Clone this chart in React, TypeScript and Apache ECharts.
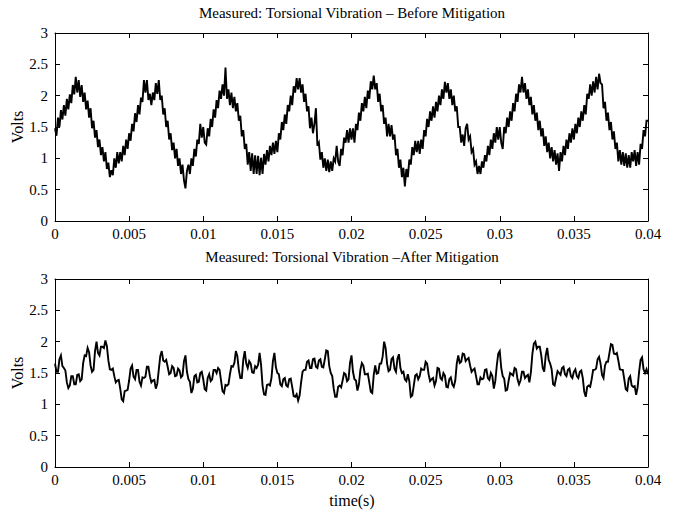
import React, { useEffect, useRef } from "react";
import * as echarts from "echarts";

// Sample spacing (s) of the traces
const timeStep = 0.0001;

const xTicks = [0, 0.005, 0.01, 0.015, 0.02, 0.025, 0.03, 0.035, 0.04];
const yTicks = [0, 0.5, 1, 1.5, 2, 2.5, 3];

const titleBefore = "Measured: Torsional Vibration – Before Mitigation";
const titleAfter = "Measured: Torsional Vibration –After Mitigation";
const xLabel = "time(s)";
const yLabel = "Volts";

// Volts, before mitigation (one value every 0.0001 s, 0 .. 0.04 s)
const beforeVolts = [
  1.48, 1.36, 1.65, 1.50, 1.77, 1.62, 1.85, 1.68, 1.95, 1.78,
  2.02, 1.88, 2.17, 2.02, 2.30, 2.05, 2.25, 1.98, 2.17, 1.90,
  2.05, 1.78, 1.92, 1.65, 1.80, 1.48, 1.60, 1.33, 1.45, 1.18,
  1.30, 1.05, 1.18, 0.95, 1.10, 0.83, 0.93, 0.70, 0.81, 0.73,
  1.00, 0.85, 1.10, 0.92, 1.10, 0.95, 1.20, 1.05, 1.30, 1.15,
  1.40, 1.28, 1.55, 1.43, 1.72, 1.58, 1.85, 1.70, 1.97, 1.90,
  2.25, 2.05, 2.25, 1.93, 2.03, 1.85, 2.05, 1.93, 2.20, 2.03,
  2.25, 1.93, 2.00, 1.70, 1.80, 1.50, 1.60, 1.30, 1.40, 1.13,
  1.25, 1.00, 1.15, 0.88, 1.00, 0.75, 0.90, 0.65, 0.52, 0.80,
  0.90, 0.75, 1.00, 0.88, 1.15, 1.03, 1.30, 1.23, 1.55, 1.33,
  1.50, 1.25, 1.22, 1.48, 1.35, 1.63, 1.50, 1.78, 1.65, 1.93,
  1.80, 2.08, 1.95, 2.18, 2.00, 2.45, 1.95, 2.10, 1.85, 2.05,
  1.80, 1.98, 1.75, 1.88, 1.60, 1.68, 1.35, 1.45, 1.15, 1.23,
  0.90, 1.10, 0.80, 1.08, 0.75, 1.05, 0.75, 1.04, 0.73, 1.01,
  0.75, 1.07, 0.90, 1.13, 0.95, 1.20, 1.05, 1.25, 1.07, 1.28,
  1.10, 1.40, 1.30, 1.58, 1.45, 1.70, 1.55, 1.85, 1.75, 2.00,
  1.85, 2.15, 2.05, 2.28, 2.10, 2.28, 2.05, 2.18, 1.90, 2.03,
  1.75, 1.83, 1.48, 1.65, 1.40, 1.55, 1.80, 1.20, 1.25, 0.98,
  1.10, 0.85, 1.00, 0.80, 0.98, 0.78, 0.95, 0.80, 1.00, 0.95,
  1.20, 0.95, 0.88, 1.15, 1.05, 1.33, 1.25, 1.45, 1.25, 1.48,
  1.30, 1.48, 1.25, 1.55, 1.45, 1.73, 1.60, 1.88, 1.75, 1.98,
  1.80, 2.08, 1.95, 2.23, 2.10, 2.32, 2.10, 2.20, 1.90, 2.03,
  1.75, 1.85, 1.55, 1.65, 1.35, 1.55, 1.35, 1.53, 1.30, 1.38,
  1.05, 1.15, 0.85, 0.98, 0.70, 0.85, 0.55, 0.83, 0.70, 0.98,
  0.90, 1.18, 1.05, 1.28, 1.10, 1.28, 1.07, 1.30, 1.15, 1.45,
  1.35, 1.63, 1.50, 1.75, 1.60, 1.83, 1.65, 1.90, 1.75, 2.00,
  1.85, 2.10, 1.95, 2.22, 2.05, 2.20, 1.95, 2.10, 1.85, 2.00,
  1.75, 1.83, 1.50, 1.50, 1.25, 1.38, 1.20, 1.48, 1.55, 1.30,
  1.35, 1.10, 1.15, 0.90, 0.95, 0.75, 0.88, 0.75, 0.95, 0.85,
  1.05, 0.95, 1.20, 1.05, 1.30, 1.15, 1.40, 1.25, 1.50, 1.30,
  1.50, 1.25, 1.15, 1.50, 1.40, 1.65, 1.50, 1.75, 1.60, 1.88,
  1.75, 2.03, 1.90, 2.18, 2.05, 2.30, 2.05, 2.20, 1.95, 2.10,
  1.85, 1.98, 1.70, 1.85, 1.60, 1.73, 1.45, 1.60, 1.35, 1.48,
  1.20, 1.35, 1.10, 1.25, 1.00, 1.18, 0.95, 1.13, 0.90, 1.08,
  0.80, 1.10, 0.95, 1.20, 1.05, 1.30, 1.15, 1.40, 1.25, 1.48,
  1.30, 1.55, 1.40, 1.65, 1.50, 1.75, 1.60, 1.85, 1.70, 2.03,
  1.95, 2.18, 2.00, 2.23, 2.05, 2.30, 2.10, 2.35, 2.20, 2.18,
  1.80, 1.90, 1.60, 1.73, 1.45, 1.58, 1.30, 1.43, 1.15, 1.25,
  0.95, 1.13, 0.90, 1.10, 0.88, 1.08, 0.85, 1.05, 0.85, 1.10,
  0.95, 1.13, 0.88, 1.10, 0.90, 1.23, 1.15, 1.45, 1.35, 1.60,
  1.60,
];

// Volts, after mitigation (one value every 0.0001 s, 0 .. 0.04 s)
const afterVolts = [
  1.65, 1.52, 1.52, 1.72, 1.78, 1.61, 1.58, 1.54, 1.35, 1.26,
  1.30, 1.45, 1.45, 1.32, 1.32, 1.47, 1.48, 1.37, 1.40, 1.66,
  1.78, 1.77, 1.90, 1.83, 1.62, 1.52, 1.55, 1.85, 2.00, 1.82,
  1.78, 1.92, 1.92, 1.90, 2.02, 1.93, 1.70, 1.56, 1.55, 1.57,
  1.45, 1.35, 1.38, 1.39, 1.25, 1.08, 1.05, 1.21, 1.22, 1.23,
  1.38, 1.57, 1.62, 1.44, 1.40, 1.55, 1.55, 1.36, 1.30, 1.43,
  1.42, 1.44, 1.60, 1.60, 1.45, 1.35, 1.38, 1.39, 1.25, 1.33,
  1.55, 1.77, 1.85, 1.70, 1.68, 1.71, 1.60, 1.48, 1.50, 1.61,
  1.58, 1.45, 1.46, 1.57, 1.54, 1.43, 1.46, 1.69, 1.78, 1.52,
  1.40, 1.36, 1.18, 1.25, 1.45, 1.47, 1.35, 1.36, 1.50, 1.52,
  1.40, 1.24, 1.22, 1.42, 1.48, 1.37, 1.40, 1.55, 1.55, 1.50,
  1.58, 1.55, 1.38, 1.21, 1.18, 1.31, 1.30, 1.32, 1.48, 1.61,
  1.60, 1.66, 1.85, 1.77, 1.55, 1.42, 1.42, 1.71, 1.85, 1.65,
  1.58, 1.69, 1.65, 1.51, 1.50, 1.61, 1.58, 1.63, 1.82, 1.63,
  1.30, 1.16, 1.15, 1.31, 1.32, 1.30, 1.42, 1.69, 1.82, 1.59,
  1.50, 1.48, 1.32, 1.29, 1.40, 1.42, 1.30, 1.28, 1.40, 1.41,
  1.28, 1.13, 1.12, 1.16, 1.06, 1.14, 1.35, 1.52, 1.55, 1.55,
  1.68, 1.70, 1.58, 1.58, 1.72, 1.73, 1.60, 1.58, 1.70, 1.72,
  1.60, 1.59, 1.72, 1.86, 1.85, 1.61, 1.50, 1.45, 1.25, 1.12,
  1.12, 1.28, 1.30, 1.27, 1.38, 1.50, 1.48, 1.37, 1.40, 1.66,
  1.78, 1.52, 1.40, 1.38, 1.22, 1.32, 1.55, 1.66, 1.62, 1.48,
  1.48, 1.49, 1.35, 1.20, 1.18, 1.47, 1.62, 1.49, 1.50, 1.65,
  1.65, 1.76, 2.00, 1.90, 1.65, 1.53, 1.55, 1.72, 1.75, 1.57,
  1.52, 1.73, 1.80, 1.58, 1.50, 1.52, 1.40, 1.37, 1.48, 1.37,
  1.12, 1.14, 1.30, 1.46, 1.48, 1.40, 1.45, 1.57, 1.55, 1.55,
  1.68, 1.65, 1.48, 1.37, 1.40, 1.42, 1.30, 1.37, 1.58, 1.57,
  1.42, 1.39, 1.50, 1.46, 1.28, 1.27, 1.40, 1.43, 1.32, 1.28,
  1.38, 1.65, 1.78, 1.66, 1.68, 1.81, 1.80, 1.69, 1.72, 1.74,
  1.62, 1.52, 1.55, 1.57, 1.45, 1.32, 1.32, 1.43, 1.40, 1.41,
  1.55, 1.56, 1.42, 1.39, 1.50, 1.45, 1.25, 1.37, 1.62, 1.81,
  1.85, 1.58, 1.45, 1.41, 1.22, 1.23, 1.38, 1.50, 1.48, 1.46,
  1.58, 1.56, 1.40, 1.32, 1.38, 1.52, 1.52, 1.42, 1.45, 1.47,
  1.35, 1.51, 1.80, 1.97, 2.00, 1.89, 1.92, 1.92, 1.78, 1.58,
  1.52, 1.78, 1.90, 1.71, 1.65, 1.56, 1.32, 1.30, 1.42, 1.53,
  1.50, 1.47, 1.58, 1.60, 1.48, 1.45, 1.55, 1.57, 1.45, 1.42,
  1.52, 1.56, 1.45, 1.42, 1.52, 1.54, 1.42, 1.20, 1.12, 1.28,
  1.30, 1.28, 1.40, 1.55, 1.55, 1.57, 1.72, 1.76, 1.65, 1.47,
  1.42, 1.62, 1.68, 1.68, 1.82, 1.96, 1.95, 1.81, 1.80, 1.82,
  1.70, 1.56, 1.55, 1.55, 1.40, 1.24, 1.22, 1.41, 1.45, 1.30,
  1.28, 1.29, 1.15, 1.27, 1.52, 1.71, 1.75, 1.56, 1.50, 1.56,
  1.48,
];

const FONT = "'Liberation Serif', 'Times New Roman', Times, serif";

const toPairs = (vals: number[]) =>
  vals.map((v, i) => [Number((i * timeStep).toFixed(4)), v]);

const fmtTick = (v: number) => String(parseFloat(v.toFixed(4)));

export default function App() {
  const ref = useRef<HTMLDivElement>(null);

  useEffect(() => {
    if (!ref.current) return;
    const chart = echarts.init(ref.current, undefined, { renderer: "svg" });

    const grids = [
      { left: 55, top: 33, width: 593, height: 188 },
      { left: 55, top: 279, width: 593, height: 188 },
    ];

    const axisLine = { show: true, onZero: false, lineStyle: { color: "#000", width: 1 } };
    const tick = { show: true, inside: true, length: 5, lineStyle: { color: "#000", width: 1 } };
    const label = { color: "#000", fontFamily: FONT, fontSize: 15 };

    const xAxes: any[] = [];
    const yAxes: any[] = [];
    grids.forEach((_, gi) => {
      const xBase = {
        type: "value",
        gridIndex: gi,
        min: xTicks[0],
        max: xTicks[xTicks.length - 1],
        interval: xTicks[1] - xTicks[0],
        axisLine,
        axisTick: tick,
        splitLine: { show: false },
      };
      const yBase = {
        type: "value",
        gridIndex: gi,
        min: yTicks[0],
        max: yTicks[yTicks.length - 1],
        interval: yTicks[1] - yTicks[0],
        axisLine,
        axisTick: tick,
        splitLine: { show: false },
      };
      xAxes.push({
        ...xBase,
        position: "bottom",
        axisLabel: { ...label, margin: 5, formatter: fmtTick, showMinLabel: true, showMaxLabel: true },
      });
      xAxes.push({ ...xBase, position: "top", axisLabel: { show: false } });
      yAxes.push({
        ...yBase,
        position: "left",
        axisLabel: { ...label, margin: 7, formatter: fmtTick },
      });
      yAxes.push({ ...yBase, position: "right", axisLabel: { show: false } });
    });

    const lineSeries = (vals: number[], gi: number) => ({
      type: "line",
      xAxisIndex: gi * 2,
      yAxisIndex: gi * 2,
      data: toPairs(vals),
      showSymbol: false,
      symbol: "none",
      lineStyle: { color: "#000", width: 1.9, join: "miter" },
      silent: true,
    });

    const textEl = (text: string, x: number, y: number, size: number, rotation = 0) => ({
      type: "text",
      x,
      y,
      rotation,
      silent: true,
      style: {
        text,
        fill: "#000",
        font: `${size}px ${FONT}`,
        fontSize: size,
        fontFamily: FONT,
        align: "center",
        verticalAlign: "middle",
        textAlign: "center",
        textVerticalAlign: "middle",
      },
    });

    chart.setOption({
      animation: false,
      backgroundColor: "#fff",
      grid: grids,
      xAxis: xAxes,
      yAxis: yAxes,
      series: [lineSeries(beforeVolts, 0), lineSeries(afterVolts, 1)],
      graphic: [
        textEl(titleBefore, 352, 13, 15),
        textEl(titleAfter, 352, 257, 15),
        textEl(xLabel, 352, 500, 16),
        textEl(yLabel, 17, 127, 16, Math.PI / 2),
        textEl(yLabel, 17, 373, 16, Math.PI / 2),
      ],
    });

    return () => chart.dispose();
  }, []);

  return (
    <div
      ref={ref}
      style={{ position: "fixed", left: 0, top: 0, width: 680, height: 513, background: "#fff" }}
    />
  );
}
